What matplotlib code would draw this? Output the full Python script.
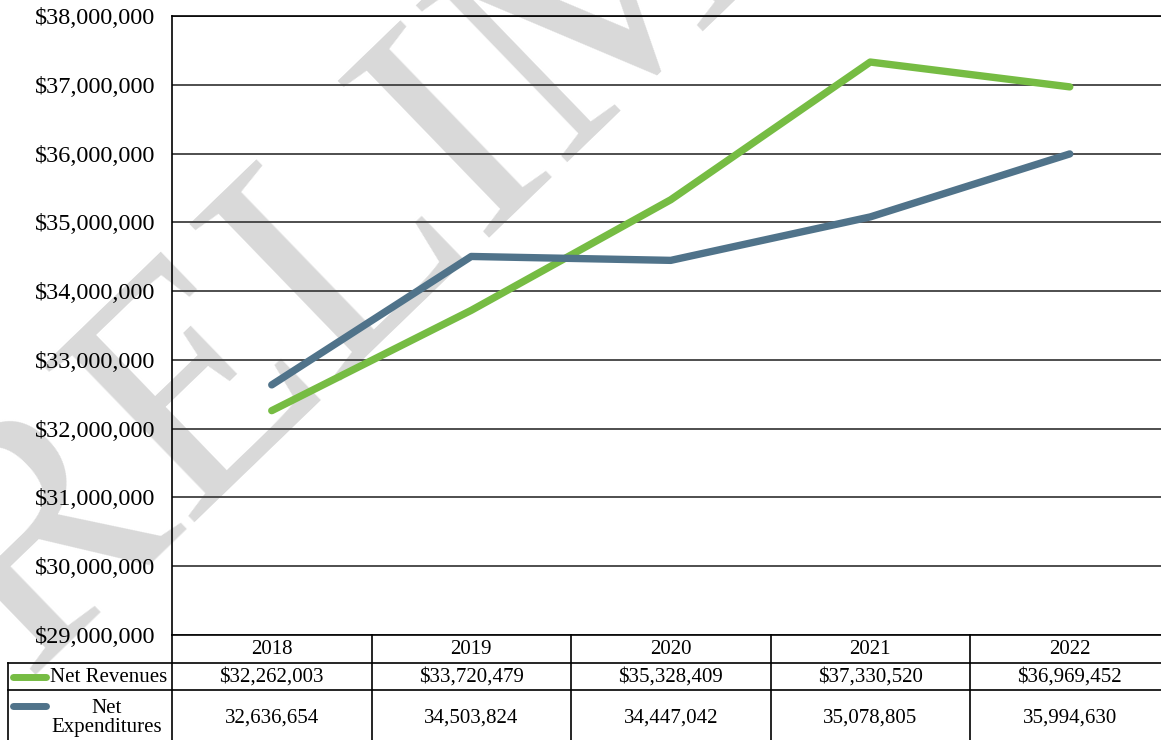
import matplotlib
matplotlib.use('Agg')
import matplotlib.pyplot as plt
import matplotlib.transforms as mtransforms
from matplotlib.lines import Line2D

# data
years = ['2018', '2019', '2020', '2021', '2022']
net_revenues = [32262003, 33720479, 35328409, 37330520, 36969452]
net_expenditures = [32636654, 34503824, 34447042, 35078805, 35994630]
rev_labels = ['$32,262,003', '$33,720,479', '$35,328,409', '$37,330,520', '$36,969,452']
exp_labels = ['32,636,654', '34,503,824', '34,447,042', '35,078,805', '35,994,630']
y_ticks = list(range(29000000, 38000001, 1000000))

green = '#76bc43'
blue = '#50738a'

plt.rcParams['font.family'] = ['Liberation Serif', 'DejaVu Serif']

W, H = 1161, 740
fig = plt.figure(figsize=(W / 100, H / 100), dpi=100)


def fx(x):
    return x / W


def fy(y):
    return 1 - y / H


# axes box in pixels (top-origin)
ax_left, ax_top, ax_bottom, col_w = 172, 16, 635, 199.5
ax = fig.add_axes([fx(ax_left), fy(ax_bottom), (col_w * 5) / W, (ax_bottom - ax_top) / H])
ax.patch.set_visible(False)

x = list(range(len(years)))
ax.plot(x, net_revenues, color=green, lw=5.3, solid_capstyle='round', solid_joinstyle='round', zorder=3)
ax.plot(x, net_expenditures, color=blue, lw=5.3, solid_capstyle='round', solid_joinstyle='round', zorder=3)

ax.set_xlim(-0.5, len(years) - 0.5)
ax.set_ylim(y_ticks[0], y_ticks[-1])
ax.set_yticks(y_ticks)
ax.set_yticklabels([f'${v:,.0f}' for v in y_ticks], fontsize=17.5)
ax.set_xticks([])
ax.tick_params(axis='y', length=0, pad=12)
ax.yaxis.grid(True, color='#404040', lw=1.3)
ax.spines['right'].set_visible(False)
for s in ['left', 'top', 'bottom']:
    ax.spines[s].set_color('black')
    ax.spines[s].set_linewidth(1.2)

# watermark, behind everything
fig.text(fx(-108), fy(805), 'PRELIMINARY', fontsize=240, color='#d9d9d9',
         rotation=44, rotation_mode='anchor', ha='left', va='baseline', zorder=-1)

# data table below the axes
trans = mtransforms.blended_transform_factory(ax.transData, fig.transFigure)
row_y = [635, 663, 690, 745]
left_edge = 8


def hline(y, x0):
    fig.add_artist(Line2D([fx(x0), 1.0], [fy(y), fy(y)], color='black', lw=1.2))


def vline_data(xd, y0, y1):
    fig.add_artist(Line2D([xd, xd], [fy(y0), fy(y1)], color='black', lw=1.2, transform=trans))


hline(row_y[1], left_edge)
hline(row_y[2], left_edge)
fig.add_artist(Line2D([fx(left_edge), fx(left_edge)], [fy(row_y[1]), fy(row_y[3])], color='black', lw=1.2))
for i in range(len(years)):
    vline_data(i - 0.5, row_y[0], row_y[3])

for i, yr in enumerate(years):
    ax.text(i, fy(649), yr, transform=trans, ha='center', va='center', fontsize=15)
    ax.text(i, fy(677), rev_labels[i], transform=trans, ha='center', va='center', fontsize=15)
    ax.text(i, fy(718), exp_labels[i], transform=trans, ha='center', va='center', fontsize=15)

# legend keys in row headers
fig.add_artist(Line2D([fx(13), fx(46)], [fy(677), fy(677)], color=green, lw=5, solid_capstyle='round'))
fig.text(fx(50), fy(677), 'Net Revenues', ha='left', va='center', fontsize=15)
fig.add_artist(Line2D([fx(13), fx(46)], [fy(706), fy(706)], color=blue, lw=5, solid_capstyle='round'))
fig.text(fx(107), fy(718), 'Net\nExpenditures', ha='center', va='center', fontsize=15, linespacing=1.05)

fig.savefig('out.png', dpi=100)
